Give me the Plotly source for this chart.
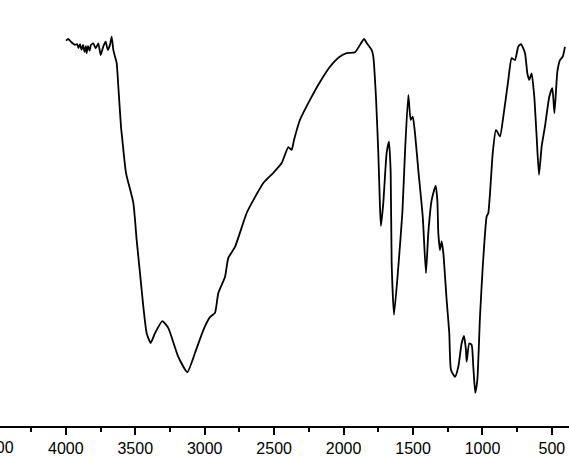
import plotly.graph_objects as go

wavenumber = [3999, 3982, 3958, 3934, 3919, 3909, 3898, 3887, 3876, 3865, 3855, 3850, 3840, 3829, 3819,
              3802, 3785, 3766, 3749, 3730, 3713, 3698, 3682, 3670, 3658, 3646,
              3634, 3622, 3603, 3593, 3567, 3514, 3490, 3466, 3442, 3418,
              3389, 3358, 3305, 3262, 3190, 3125, 3070, 3010, 2962, 2926, 2902, 2854, 2830, 2782, 2698,
              2650, 2578, 2506, 2446, 2398, 2374, 2357, 2314, 2242, 2170, 2098, 2026, 1978, 1918, 1853,
              1834, 1798, 1786, 1767, 1750, 1738, 1731, 1714, 1690, 1673, 1661, 1654, 1637, 1606, 1577,
              1558, 1534, 1517, 1502, 1486, 1462, 1430, 1407, 1390, 1366, 1337, 1325, 1318, 1306, 1294,
              1282, 1258, 1239, 1227, 1198, 1174, 1150, 1133, 1119, 1114, 1095, 1078, 1066, 1052, 1037,
              1018, 998, 970, 958, 926, 903, 874, 850, 814, 790, 766, 742, 723, 694, 677,
              663, 646, 627, 610, 593, 574, 550, 519, 497, 482, 461, 442, 422, 406]

transmittance = [98.8, 99.2, 98.3, 97.7, 97.9, 96.9, 97.9, 96.4, 97.7, 95.9, 97.4, 95.6, 97.4, 96.2, 97.7,
                 98.1, 96.8, 98.1, 95.1, 97.3, 98.5, 96.4, 97.7, 99.8, 96.4, 94.7,
                 93.1, 87.0, 76.8, 73.3, 64.9, 57.2, 47.7, 39.2, 30.6, 23.8,
                 21.3, 23.8, 26.9, 25.1, 17.7, 13.8, 18.7, 24.6, 27.9, 29.0, 34.1, 38.2, 43.1, 45.9, 54.6,
                 57.9, 62.3, 64.9, 67.4, 71.5, 70.8, 73.3, 78.5, 83.6, 88.2, 92.1, 94.7, 95.6, 95.8, 99.2,
                 98.2, 96.4, 94.7, 84.4, 70.0, 56.2, 51.3, 57.2, 70.0, 72.9, 64.9, 41.8, 28.5, 40.8, 54.6,
                 70.0, 84.9, 78.5, 79.3, 75.1, 65.6, 53.6, 39.2, 49.5, 57.9, 61.6, 57.9, 49.5, 45.1, 47.3,
                 44.4, 32.3, 23.8, 14.4, 12.6, 15.2, 21.2, 23.1, 19.5, 16.5, 21.2, 20.8, 15.2, 8.5, 11.8,
                 28.0, 40.8, 53.7, 54.6, 70.0, 75.9, 74.2, 79.3, 88.7, 94.3, 93.8, 97.3, 97.9, 95.6, 90.4,
                 88.7, 90.4, 84.4, 74.2, 64.4, 71.6, 76.8, 84.4, 86.6, 80.2, 90.8, 93.8, 94.7, 97.2]

tick_values = [500, 1000, 1500, 2000, 2500, 3000, 3500, 4000, 4500]
tick_labels = [str(v) for v in tick_values]

x_range = [4474, 377]

fig = go.Figure()
fig.add_trace(go.Scatter(x=wavenumber, y=transmittance, mode="lines",
                         line=dict(color="black", width=1.8, shape="spline", smoothing=0.5),
                         showlegend=False))

# the 4500 label lies just past the left edge of the axis range; place it in paper coords
edge_val = tick_values[-1]
edge_frac = (x_range[0] - edge_val) / (x_range[0] - x_range[1])
fig.add_annotation(text=tick_labels[-1], xref="paper", yref="paper",
                   x=edge_frac, y=0, yshift=-21, xanchor="center", yanchor="middle",
                   showarrow=False, font=dict(family="Liberation Sans, Arial, sans-serif", size=16, color="black"))

fig.update_layout(
    width=569, height=458,
    margin=dict(l=0, r=0, t=0, b=32),
    paper_bgcolor="white", plot_bgcolor="white",
    font=dict(family="Liberation Sans, Arial, sans-serif", size=16, color="black"),
    xaxis=dict(
        range=x_range,
        tickmode="array", tickvals=tick_values, ticktext=tick_labels,
        showgrid=False, zeroline=False,
        showline=True, linecolor="black", linewidth=2,
        ticks="outside", ticklen=7, tickwidth=2, tickcolor="black",
        ticklabeloverflow="allow",
        minor=dict(dtick=250, tick0=0, ticks="outside", ticklen=4, tickwidth=2, tickcolor="black", showgrid=False),
    ),
    yaxis=dict(range=[0, 109.2], visible=False),
)

fig.write_html("out.html", config={"displayModeBar": False},
               post_script="document.body.style.margin='0px';document.body.style.overflow='hidden';")
